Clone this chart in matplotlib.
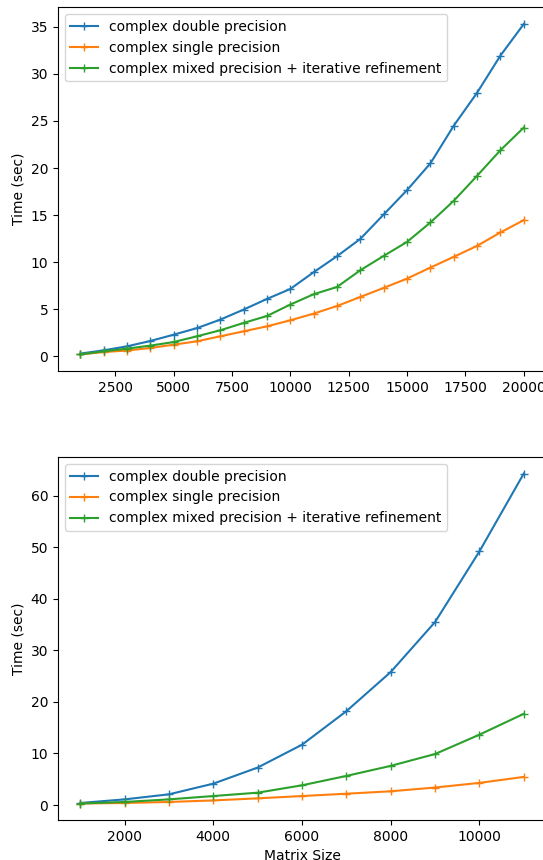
import numpy as np
import matplotlib
matplotlib.use('Agg')
import matplotlib.pyplot as plt

# top panel: matrix sizes 1000..20000
size_top = [1000, 2000, 3000, 4000, 5000, 6000, 7000, 8000, 9000, 10000,
            11000, 12000, 13000, 14000, 15000, 16000, 17000, 18000, 19000, 20000]
double_top = [0.29, 0.64, 1.06, 1.63, 2.3, 3.0, 3.9, 4.97, 6.1, 7.16,
              8.94, 10.64, 12.48, 15.07, 17.66, 20.5, 24.5, 28.0, 31.95, 35.3]
single_top = [0.2, 0.46, 0.62, 0.89, 1.24, 1.6, 2.13, 2.66, 3.19, 3.83,
              4.54, 5.35, 6.31, 7.27, 8.26, 9.43, 10.57, 11.74, 13.16, 14.47]
mixed_top = [0.2, 0.53, 0.82, 1.14, 1.52, 2.13, 2.77, 3.55, 4.29, 5.5,
             6.6, 7.37, 9.15, 10.67, 12.16, 14.22, 16.52, 19.18, 21.9, 24.3]

# bottom panel: matrix sizes 1000..11000
size_bot = [1000, 2000, 3000, 4000, 5000, 6000, 7000, 8000, 9000, 10000, 11000]
double_bot = [0.4, 1.1, 2.08, 4.15, 7.27, 11.7, 18.2, 25.8, 35.5, 49.2, 64.3]
single_bot = [0.3, 0.4, 0.6, 0.9, 1.3, 1.75, 2.2, 2.67, 3.4, 4.3, 5.46]
mixed_bot = [0.3, 0.6, 1.1, 1.75, 2.4, 3.83, 5.65, 7.6, 9.9, 13.65, 17.7]

labels = ['complex double precision',
          'complex single precision',
          'complex mixed precision + iterative refinement']

fig = plt.figure(figsize=(5.43, 8.6), dpi=100)
ax1 = fig.add_axes([0.1068, 0.5686, 0.8987, 0.4227])
ax2 = fig.add_axes([0.1068, 0.0465, 0.8987, 0.4221])

ax1.plot(size_top, double_top, marker='+', label=labels[0])
ax1.plot(size_top, single_top, marker='+', label=labels[1])
ax1.plot(size_top, mixed_top, marker='+', label=labels[2])
ax1.set_ylabel('Time (sec)')
ax1.legend(loc='upper left')

ax2.plot(size_bot, double_bot, marker='+', label=labels[0])
ax2.plot(size_bot, single_bot, marker='+', label=labels[1])
ax2.plot(size_bot, mixed_bot, marker='+', label=labels[2])
ax2.set_xlabel('Matrix Size')
ax2.set_ylabel('Time (sec)')
ax2.legend(loc='upper left')

fig.savefig('out.png', dpi=100)
